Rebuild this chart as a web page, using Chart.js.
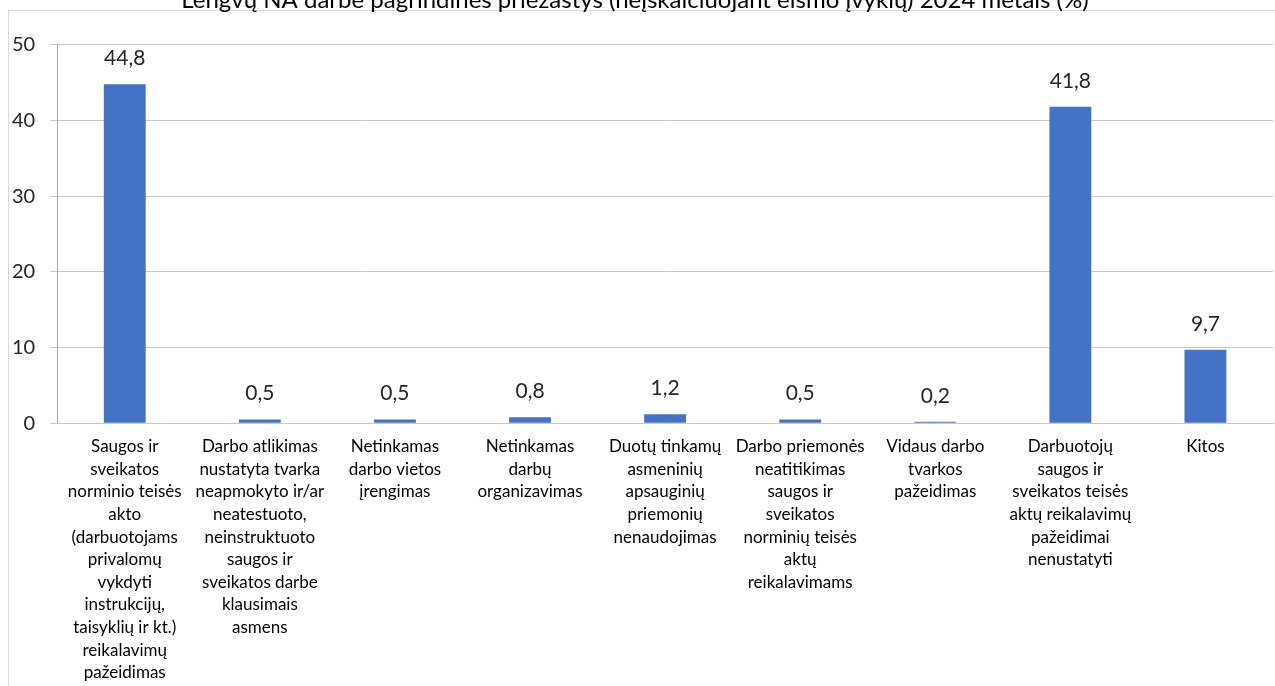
<!DOCTYPE html>
<html>
<head>
<meta charset="utf-8">
<script src="https://cdn.jsdelivr.net/npm/chart.js@4"></script>
<style>
    html, body { margin: 0; padding: 0; background: #fff; overflow: hidden; }
    #wrap { position: relative; width: 1275px; height: 686px; overflow: hidden; }
    #frame { position: absolute; left: 8px; top: 10px; width: 1280px; height: 700px; border: 1px solid #d9d9d9; box-sizing: border-box; }
    #box { position: absolute; left: -9px; top: -14px; width: 1284px; height: 702px; }
</style>
</head>
<body>
<div id="wrap">
    <div id="frame"></div>
    <div id="box"><canvas id="causesChart"></canvas></div>
</div>
<script>
// Lengvų NA darbe pagrindinės priežastys, 2024 m. (%)
const chartTitle = 'Lengvų NA darbe pagrindinės priežastys (neįskaičiuojant eismo įvykių) 2024 metais (%)';

const categories = [
    ['Saugos ir', 'sveikatos', 'norminio teisės', 'akto', '(darbuotojams', 'privalomų', 'vykdyti', 'instrukcijų,', 'taisyklių ir kt.)', 'reikalavimų', 'pažeidimas'],
    ['Darbo atlikimas', 'nustatyta tvarka', 'neapmokyto ir/ar', 'neatestuoto,', 'neinstruktuoto', 'saugos ir', 'sveikatos darbe', 'klausimais', 'asmens'],
    ['Netinkamas', 'darbo vietos', 'įrengimas'],
    ['Netinkamas', 'darbų', 'organizavimas'],
    ['Duotų tinkamų', 'asmeninių', 'apsauginių', 'priemonių', 'nenaudojimas'],
    ['Darbo priemonės', 'neatitikimas', 'saugos ir', 'sveikatos', 'norminių teisės', 'aktų', 'reikalavimams'],
    ['Vidaus darbo', 'tvarkos', 'pažeidimas'],
    ['Darbuotojų', 'saugos ir', 'sveikatos teisės', 'aktų reikalavimų', 'pažeidimai', 'nenustatyti'],
    ['Kitos']
];

const shares = [44.8, 0.5, 0.5, 0.8, 1.2, 0.5, 0.2, 41.8, 9.7];

const yTicks = [0, 10, 20, 30, 40, 50];

// values above the bars, with a decimal comma
const valueLabels = {
    id: 'valueLabels',
    afterDatasetsDraw(chart) {
        const ctx = chart.ctx;
        const meta = chart.getDatasetMeta(0);
        ctx.save();
        ctx.font = '21px Lato, "Open Sans", sans-serif';
        ctx.fillStyle = '#262626';
        ctx.textAlign = 'center';
        ctx.textBaseline = 'middle';
        meta.data.forEach(function(bar, i) {
            ctx.fillText(shares[i].toFixed(1).replace('.', ','), bar.x, bar.y - 26);
        });
        ctx.restore();
    }
};

document.addEventListener('DOMContentLoaded', function() {
    const ctx = document.getElementById('causesChart').getContext('2d');
    new Chart(ctx, {
        type: 'bar',
        data: {
            labels: categories,
            datasets: [{
                data: shares,
                backgroundColor: '#4472C4',
                categoryPercentage: 1,
                barPercentage: 0.31
            }]
        },
        options: {
            responsive: true,
            maintainAspectRatio: false,
            animation: false,
            layout: { padding: { left: 6, right: 2, top: 0, bottom: 0 } },
            plugins: {
                legend: { display: false },
                tooltip: { enabled: false },
                title: {
                    display: true,
                    text: chartTitle,
                    color: '#000',
                    font: { family: 'Lato, "Open Sans", sans-serif', size: 24, weight: 'normal' },
                    padding: { top: 0, bottom: 30 }
                }
            },
            scales: {
                y: {
                    min: 0,
                    max: 50,
                    afterBuildTicks: function(axis) {
                        axis.ticks = yTicks.map(function(v) { return { value: v }; });
                    },
                    grid: {
                        color: '#c8c8c8',
                        tickLength: 7,
                        drawTicks: true
                    },
                    border: { color: '#a6a6a6' },
                    ticks: {
                        color: '#262626',
                        padding: 15,
                        font: { family: 'Lato, "Open Sans", sans-serif', size: 20 }
                    }
                },
                x: {
                    grid: { display: false },
                    border: { color: '#c8c8c8' },
                    ticks: {
                        color: '#000',
                        autoSkip: false,
                        maxRotation: 0,
                        minRotation: 0,
                        padding: 4,
                        font: { family: 'Lato, "Open Sans", sans-serif', size: 17, lineHeight: 1.33 }
                    }
                }
            }
        },
        plugins: [valueLabels]
    });
});
</script>
</body>
</html>
